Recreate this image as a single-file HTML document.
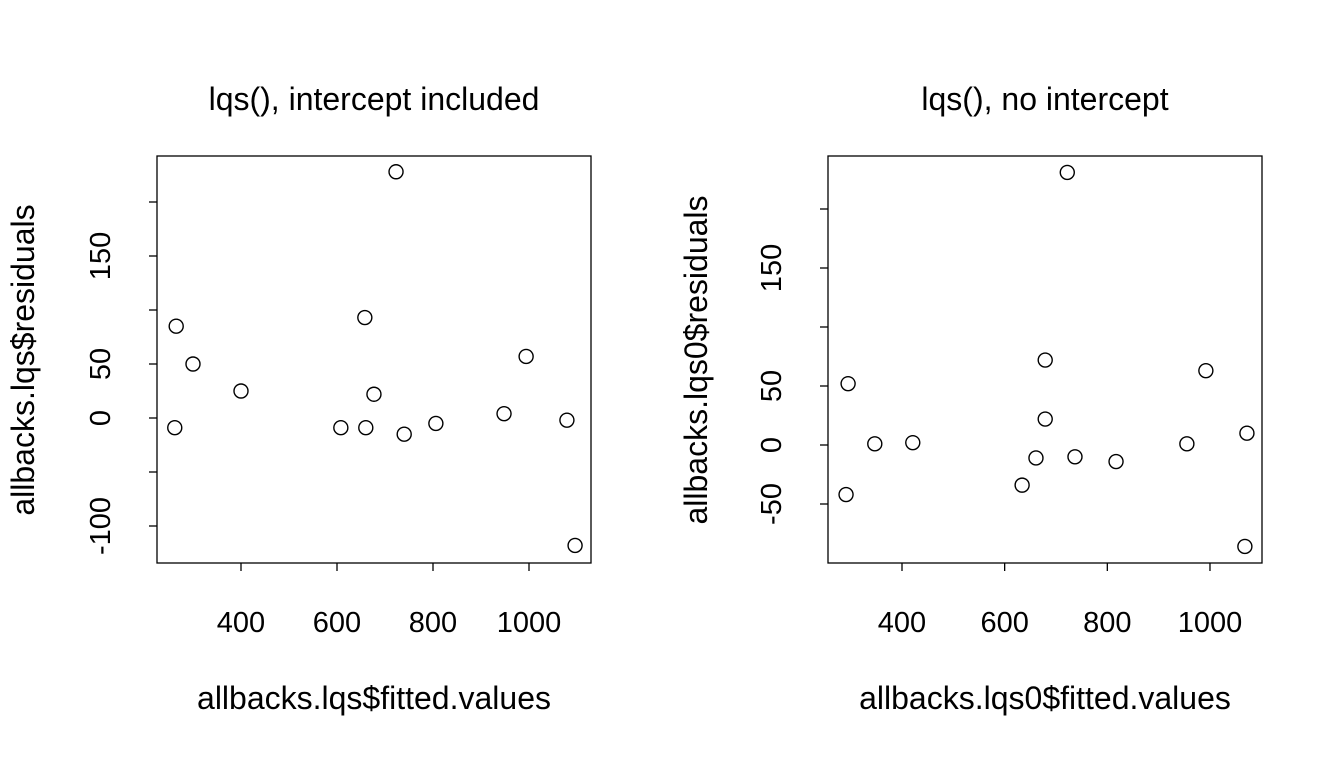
<!DOCTYPE html>
<html><head><meta charset="utf-8"><style>body{margin:0;background:#fff}svg{display:block;font-family:"Liberation Sans",Arial,sans-serif}</style></head>
<body>
<svg id="s" width="1344" height="758" xmlns="http://www.w3.org/2000/svg"></svg>
<script>
const lqsX=[262,265,300,400,608,658,660,677,723,740,806,948,994,1079,1096];
const lqsY=[-9,85,50,25,-9,93,-9,22,228,-15,-5,4,57,-2,-118];
const lqs0X=[291,295,347,421,634,661,679,679,722,737,817,955,992,1068,1072];
const lqs0Y=[-42,52,1,2,-34,-11,72,22,231,-10,-14,1,63,-86,10];
const xTicks=[400,600,800,1000];
const yTicksL=[-100,-50,0,50,100,150,200];
const yLabelsL=["-100","","0","50","","150",""];
const yTicksR=[-50,0,50,100,150,200];
const yLabelsR=["-50","0","50","","150",""];
const svg=document.getElementById('s');
const NS='http://www.w3.org/2000/svg';
function mk(t,a,p){const e=document.createElementNS(NS,t);for(const k in a)e.setAttribute(k,a[k]);(p||svg).appendChild(e);return e;}
function panel(o){
  const g=mk('g',{});
  
  
  const sx=v=>o.x0+(v-400)*o.kx, sy=v=>o.y0-v*o.ky;
  const box=mk('rect',{x:o.L,y:156,width:434,height:407,fill:'none',stroke:'#000','stroke-width':1.3},g);
  
  
  xTicks.forEach(v=>{
    const x=sx(v);
    const l=mk('line',{x1:x,x2:x,y1:563,y2:571,stroke:'#000','stroke-width':1.3},g);
    
    
    const t=mk('text',{x:x,y:632,'font-size':29,'text-anchor':'middle'},g);t.textContent=v;
    
    
  });
  o.yt.forEach((v,i)=>{
    const y=sy(v);
    const l=mk('line',{x1:o.L-8,x2:o.L,y1:y,y2:y,stroke:'#000','stroke-width':1.3},g);
    
    
    if(o.yl[i]){const t=mk('text',{x:0,y:0,'font-size':29,'text-anchor':'middle',transform:`translate(${o.L-47},${y}) rotate(-90)`},g);t.textContent=o.yl[i];
    
    }
  });
  o.X.forEach((v,i)=>{
    const c=mk('circle',{cx:sx(v),cy:sy(o.Y[i]),r:7,fill:'none',stroke:'#000','stroke-width':1.4},g);
    
    
  });
  const tt=mk('text',{x:o.L+217,y:110,'font-size':32,'text-anchor':'middle'},g);tt.textContent=o.title;
  
  
  const xl=mk('text',{x:o.L+217,y:709,'font-size':32,'text-anchor':'middle'},g);xl.textContent=o.xlab;
  
  
  const yl=mk('text',{x:0,y:0,'font-size':32,'text-anchor':'middle',transform:`translate(${o.yx},360) rotate(-90)`},g);yl.textContent=o.ylab;
  
  
}
panel({name:'left-panel',L:157,yx:34,x0:241,kx:0.48,y0:418,ky:1.08,X:lqsX,Y:lqsY,yt:yTicksL,yl:yLabelsL,title:'lqs(), intercept included',xlab:'allbacks.lqs$fitted.values',ylab:'allbacks.lqs$residuals'});
panel({name:'right-panel',L:828,yx:707,x0:902,kx:0.5133,y0:445,ky:1.18,X:lqs0X,Y:lqs0Y,yt:yTicksR,yl:yLabelsR,title:'lqs(), no intercept',xlab:'allbacks.lqs0$fitted.values',ylab:'allbacks.lqs0$residuals'});
</script>
</body></html>
